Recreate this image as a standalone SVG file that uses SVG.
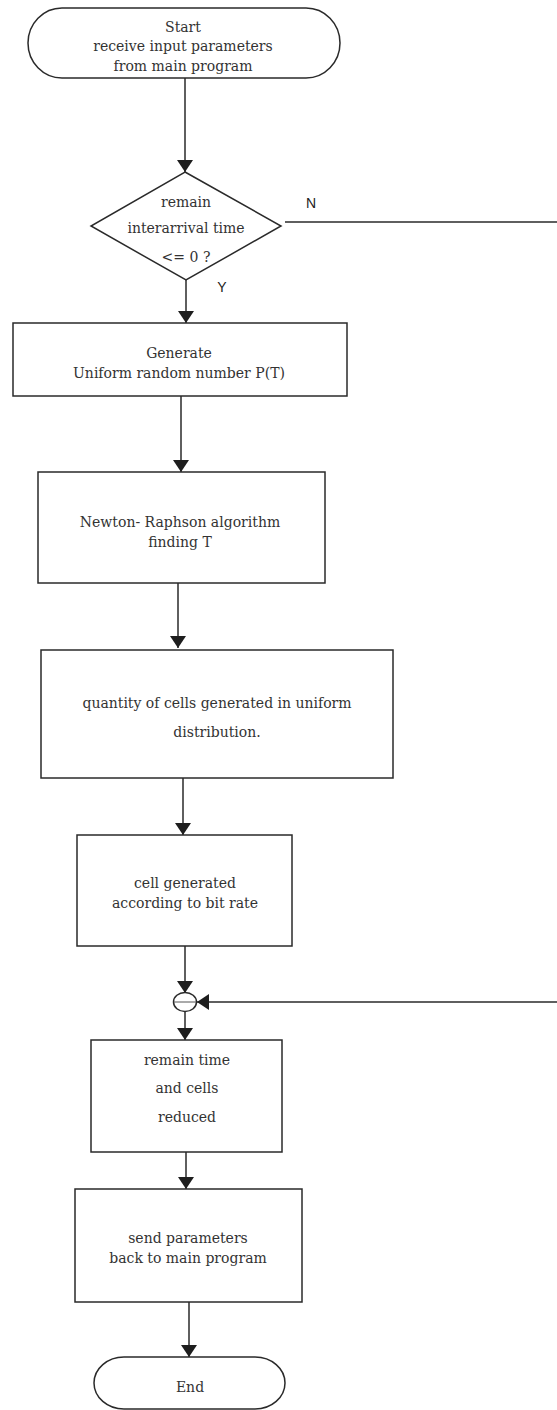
<svg xmlns="http://www.w3.org/2000/svg" width="557" height="1410" viewBox="0 0 557 1410">
  <defs>
    <style>
      .shape { fill: #ffffff; stroke: #2a2a2a; stroke-width: 1.5; }
      .line { fill: none; stroke: #2a2a2a; stroke-width: 1.5; }
      .thin { fill: none; stroke: #555555; stroke-width: 1; }
      .txt { font-family: "DejaVu Serif", "Liberation Serif", serif; font-size: 14px; fill: #333333; text-anchor: middle; }
      .lbl { font-family: "Liberation Sans", Arial, sans-serif; font-size: 14px; fill: #222222; text-anchor: middle; }
    </style>
    <marker id="arrow" markerUnits="userSpaceOnUse" markerWidth="12" markerHeight="16" refX="12" refY="8" orient="auto">
      <path d="M0,0 L12,8 L0,16 Z" fill="#1e1e1e"/>
    </marker>
  </defs>
  <rect width="557" height="1410" fill="#ffffff"/>

  <!-- connectors -->
  <g id="connectors">
    <line class="line" x1="185" y1="78" x2="185" y2="172" marker-end="url(#arrow)"/>
    <line class="line" x1="186" y1="280" x2="186" y2="323" marker-end="url(#arrow)"/>
    <line class="line" x1="285" y1="222" x2="557" y2="222"/>
    <line class="line" x1="181" y1="396" x2="181" y2="472" marker-end="url(#arrow)"/>
    <line class="line" x1="178" y1="583" x2="178" y2="648" marker-end="url(#arrow)"/>
    <line class="line" x1="183" y1="778" x2="183" y2="835" marker-end="url(#arrow)"/>
    <line class="line" x1="185" y1="946" x2="185" y2="993" marker-end="url(#arrow)"/>
    <line class="line" x1="557" y1="1002" x2="197" y2="1002" marker-end="url(#arrow)"/>
    <line class="line" x1="185" y1="1012" x2="185" y2="1040" marker-end="url(#arrow)"/>
    <line class="line" x1="186" y1="1152" x2="186" y2="1189" marker-end="url(#arrow)"/>
    <line class="line" x1="189" y1="1302" x2="189" y2="1357" marker-end="url(#arrow)"/>
    <text class="lbl" x="311" y="208">N</text>
    <text class="lbl" x="222" y="292">Y</text>
  </g>

  <!-- start terminator -->
  <g id="start">
    <path class="shape" d="M62,8 H306 A34,35 0 0 1 306,78 H62 A34,35 0 0 1 62,8 Z"/>
    <text class="txt" x="183" y="32">Start</text>
    <text class="txt" x="183" y="51">receive input parameters</text>
    <text class="txt" x="183" y="71">from main program</text>
  </g>

  <!-- decision -->
  <g id="decision">
    <path class="shape" d="M185,172 L281,226 L186,280 L91,226 Z"/>
    <text class="txt" x="186" y="207">remain</text>
    <text class="txt" x="186" y="233">interarrival time</text>
    <text class="txt" x="186" y="262">&lt;= 0 ?</text>
  </g>

  <g id="generate">
    <rect class="shape" x="13" y="323" width="334" height="73"/>
    <text class="txt" x="179" y="358">Generate</text>
    <text class="txt" x="179" y="378">Uniform random number P(T)</text>
  </g>

  <g id="newton">
    <rect class="shape" x="38" y="472" width="287" height="111"/>
    <text class="txt" x="180" y="527">Newton- Raphson algorithm</text>
    <text class="txt" x="180" y="547">finding T</text>
  </g>

  <g id="quantity">
    <rect class="shape" x="41" y="650" width="352" height="128"/>
    <text class="txt" x="217" y="708">quantity of cells generated in uniform</text>
    <text class="txt" x="217" y="737">distribution.</text>
  </g>

  <g id="cellgen">
    <rect class="shape" x="77" y="835" width="215" height="111"/>
    <text class="txt" x="185" y="888">cell generated</text>
    <text class="txt" x="185" y="908">according to bit rate</text>
  </g>

  <!-- junction -->
  <g id="junction">
    <ellipse class="shape" cx="185" cy="1002" rx="11.5" ry="9.5"/>
    <line class="thin" x1="174" y1="1002" x2="196" y2="1002"/>
  </g>

  <g id="reduce">
    <rect class="shape" x="91" y="1040" width="191" height="112"/>
    <text class="txt" x="187" y="1065">remain time</text>
    <text class="txt" x="187" y="1093">and cells</text>
    <text class="txt" x="187" y="1122">reduced</text>
  </g>

  <g id="send">
    <rect class="shape" x="75" y="1189" width="227" height="113"/>
    <text class="txt" x="188" y="1243">send parameters</text>
    <text class="txt" x="188" y="1263">back to main program</text>
  </g>

  <!-- end terminator -->
  <g id="end">
    <path class="shape" d="M124,1357 H255 A30,26 0 0 1 255,1409 H124 A30,26 0 0 1 124,1357 Z"/>
    <text class="txt" x="190" y="1392">End</text>
  </g>
</svg>
